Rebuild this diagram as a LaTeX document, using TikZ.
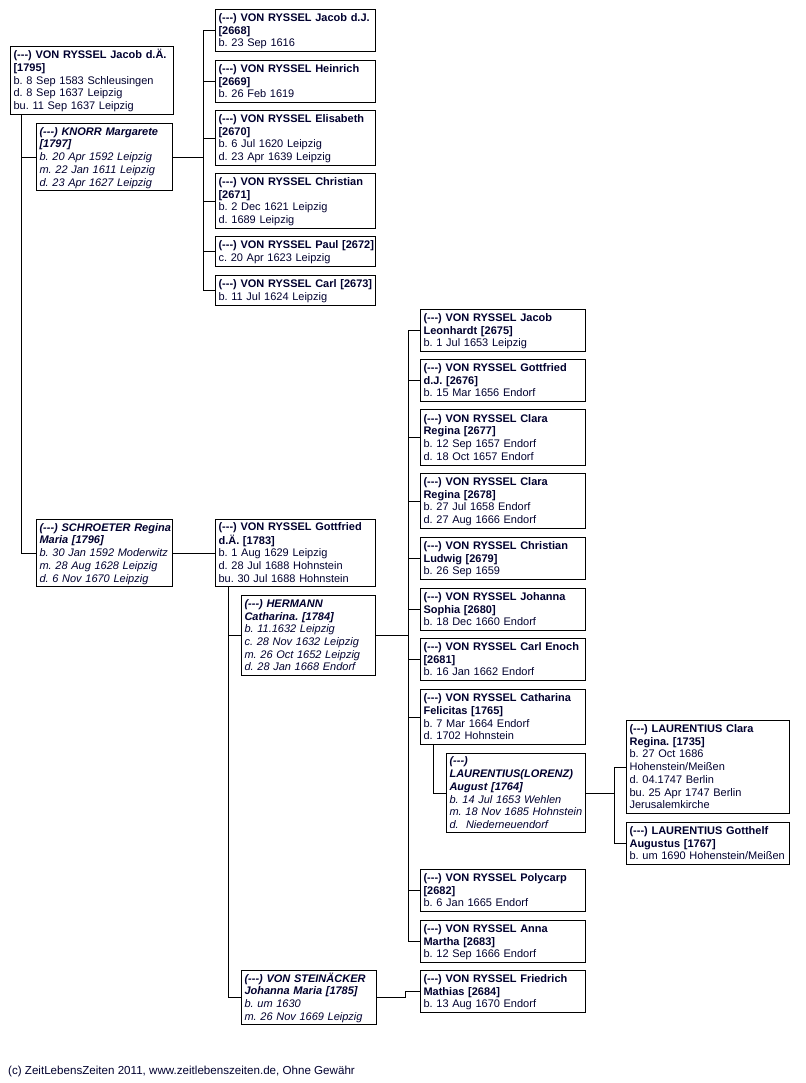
\documentclass[tikz,border=0pt]{standalone}
\usepackage{fontspec}
\setmainfont{Liberation Sans}
\usetikzlibrary{positioning}
\definecolor{tc}{HTML}{00002E}
\newcommand\unk{(-{}-{}-)}
\newcommand\fsz{\fontsize{11}{12.7}\selectfont\frenchspacing}
\newcommand\ftsz{\fontsize{11.6}{12.5}\selectfont\frenchspacing}
\newcommand\bx[1]{\begin{tabular}{@{}l@{}}\rule{0pt}{11pt}#1\end{tabular}}
\tikzset{
  box/.style 2 args={draw=black, line width=1.1pt, anchor=north west,
    inner xsep=3pt, inner ysep=0pt, align=left, font=\fsz, text=tc,
    text width=#1, minimum height=#2},
  link/.style={draw=black, line width=0.9pt},
}
\begin{document}
\begin{tikzpicture}[x=1pt,y=-1pt]
\useasboundingbox (0,0) rectangle (805,1083);
% generation 1
\node[box={157pt}{68pt}] (p1795) at (10,46) {\bx{\textbf{\unk{} VON RYSSEL Jacob d.Ä.}\\\textbf{[1795]}\\b. 8 Sep 1583 Schleusingen\\d. 8 Sep 1637 Leipzig\\bu. 11 Sep 1637 Leipzig}};
\node[box={130pt}{67pt}] (knorr) at (36,123) {\bx{\textbf{\itshape \unk{} KNORR Margarete}\\\textbf{\itshape [1797]}\\\itshape b. 20 Apr 1592 Leipzig\\\itshape m. 22 Jan 1611 Leipzig\\\itshape d. 23 Apr 1627 Leipzig}};
\node[box={130pt}{67pt}] (schroeter) at (36,519) {\bx{\textbf{\itshape \unk{} SCHROETER Regina}\\\textbf{\itshape Maria [1796]}\\\itshape b. 30 Jan 1592 Moderwitz\\\itshape m. 28 Aug 1628 Leipzig\\\itshape d. 6 Nov 1670 Leipzig}};
% children of Knorr
\node[box={154pt}{42pt}] (c2668) at (215,9) {\bx{\textbf{\unk{} VON RYSSEL Jacob d.J.}\\\textbf{[2668]}\\b. 23 Sep 1616}};
\node[box={154pt}{42pt}] (c2669) at (215,60) {\bx{\textbf{\unk{} VON RYSSEL Heinrich}\\\textbf{[2669]}\\b. 26 Feb 1619}};
\node[box={154pt}{55pt}] (c2670) at (215,110) {\bx{\textbf{\unk{} VON RYSSEL Elisabeth}\\\textbf{[2670]}\\b. 6 Jul 1620 Leipzig\\d. 23 Apr 1639 Leipzig}};
\node[box={154pt}{55pt}] (c2671) at (215,173) {\bx{\textbf{\unk{} VON RYSSEL Christian}\\\textbf{[2671]}\\b. 2 Dec 1621 Leipzig\\d. 1689 Leipzig}};
\node[box={154pt}{30pt}] (c2672) at (215,236) {\bx{\textbf{\unk{} VON RYSSEL Paul [2672]}\\c. 20 Apr 1623 Leipzig}};
\node[box={154pt}{30pt}] (c2673) at (215,275) {\bx{\textbf{\unk{} VON RYSSEL Carl [2673]}\\b. 11 Jul 1624 Leipzig}};
% Gottfried and spouses
\node[box={154pt}{67pt}] (p1783) at (215,519) {\bx{\textbf{\unk{} VON RYSSEL Gottfried}\\\textbf{d.Ä. [1783]}\\b. 1 Aug 1629 Leipzig\\d. 28 Jul 1688 Hohnstein\\bu. 30 Jul 1688 Hohnstein}};
\node[box={128pt}{80pt}] (hermann) at (241,595) {\bx{\textbf{\itshape \unk{} HERMANN}\\\textbf{\itshape Catharina. [1784]}\\\itshape b. 11.1632 Leipzig\\\itshape c. 28 Nov 1632 Leipzig\\\itshape m. 26 Oct 1652 Leipzig\\\itshape d. 28 Jan 1668 Endorf}};
\node[box={129pt}{54pt}] (steinaecker) at (241,970) {\bx{\textbf{\itshape \unk{} VON STEINÄCKER}\\\textbf{\itshape Johanna Maria [1785]}\\\itshape b. um 1630\\\itshape m. 26 Nov 1669 Leipzig}};
% children of Hermann
\node[box={159pt}{42pt}] (c2675) at (420,309) {\bx{\textbf{\unk{} VON RYSSEL Jacob}\\\textbf{Leonhardt [2675]}\\b. 1 Jul 1653 Leipzig}};
\node[box={159pt}{42pt}] (c2676) at (420,359) {\bx{\textbf{\unk{} VON RYSSEL Gottfried}\\\textbf{d.J. [2676]}\\b. 15 Mar 1656 Endorf}};
\node[box={159pt}{56pt}] (c2677) at (420,409) {\bx{\textbf{\unk{} VON RYSSEL Clara}\\\textbf{Regina [2677]}\\b. 12 Sep 1657 Endorf\\d. 18 Oct 1657 Endorf}};
\node[box={159pt}{55pt}] (c2678) at (420,473) {\bx{\textbf{\unk{} VON RYSSEL Clara}\\\textbf{Regina [2678]}\\b. 27 Jul 1658 Endorf\\d. 27 Aug 1666 Endorf}};
\node[box={159pt}{42pt}] (c2679) at (420,537) {\bx{\textbf{\unk{} VON RYSSEL Christian}\\\textbf{Ludwig [2679]}\\b. 26 Sep 1659}};
\node[box={159pt}{42pt}] (c2680) at (420,588) {\bx{\textbf{\unk{} VON RYSSEL Johanna}\\\textbf{Sophia [2680]}\\b. 18 Dec 1660 Endorf}};
\node[box={159pt}{42pt}] (c2681) at (420,638) {\bx{\textbf{\unk{} VON RYSSEL Carl Enoch}\\\textbf{[2681]}\\b. 16 Jan 1662 Endorf}};
\node[box={159pt}{55pt}] (c1765) at (420,689) {\bx{\textbf{\unk{} VON RYSSEL Catharina}\\\textbf{Felicitas [1765]}\\b. 7 Mar 1664 Endorf\\d. 1702 Hohnstein}};
\node[box={133pt}{79pt}] (laur) at (446,753) {\bx{\textbf{\itshape \unk}\\\textbf{\itshape LAURENTIUS(LORENZ)}\\\textbf{\itshape August [1764]}\\\itshape b. 14 Jul 1653 Wehlen\\\itshape m. 18 Nov 1685 Hohnstein\\\itshape d.\ \ Niederneuendorf}};
\node[box={159pt}{42pt}] (c2682) at (420,869) {\bx{\textbf{\unk{} VON RYSSEL Polycarp}\\\textbf{[2682]}\\b. 6 Jan 1665 Endorf}};
\node[box={159pt}{42pt}] (c2683) at (420,920) {\bx{\textbf{\unk{} VON RYSSEL Anna}\\\textbf{Martha [2683]}\\b. 12 Sep 1666 Endorf}};
\node[box={159pt}{42pt}] (c2684) at (420,970) {\bx{\textbf{\unk{} VON RYSSEL Friedrich}\\\textbf{Mathias [2684]}\\b. 13 Aug 1670 Endorf}};
% children of Laurentius
\node[box={157pt}{93pt}] (c1735) at (626,720) {\bx{\textbf{\unk{} LAURENTIUS Clara}\\\textbf{Regina. [1735]}\\b. 27 Oct 1686\\Hohenstein/Meißen\\d. 04.1747 Berlin\\bu. 25 Apr 1747 Berlin\\Jerusalemkirche}};
\node[box={157pt}{42pt}] (c1767) at (626,822) {\bx{\textbf{\unk{} LAURENTIUS Gotthelf}\\\textbf{Augustus [1767]}\\b. um 1690 Hohenstein/Meißen}};
% footer
\node[anchor=west, inner sep=0pt, font=\ftsz, text=tc] (footer) at (8,1071) {(c) ZeitLebensZeiten 2011, www.zeitlebenszeiten.de, Ohne Gewähr};
% connectors
\draw[link] ([xshift=11pt]p1795.south west) |- (knorr.west);
\draw[link] ([xshift=11pt]p1795.south west) |- (schroeter.west);
\coordinate (j1) at ([xshift=30pt]knorr.east);
\draw[link] (knorr.east) -- (j1);
\foreach \c in {c2668,c2669,c2670,c2671,c2672,c2673}
  \draw[link] (j1) |- (\c.west);
\draw[link] (schroeter.east) -- (p1783.west);
\draw[link] ([xshift=13pt]p1783.south west) |- (hermann.west);
\draw[link] ([xshift=13pt]p1783.south west) |- (steinaecker.west);
\coordinate (j2) at ([xshift=32pt]hermann.east);
\draw[link] (hermann.east) -- (j2);
\foreach \c in {c2675,c2676,c2677,c2678,c2679,c2680,c2681,c1765,c2682,c2683}
  \draw[link] (j2) |- (\c.west);
\coordinate (j3) at ([xshift=-15pt]c2684.west);
\draw[link] (steinaecker.east) -| (j3) -- (c2684.west);
\draw[link] ([xshift=13pt]c1765.south west) |- (laur.west);
\coordinate (j4) at ([xshift=28pt]laur.east);
\draw[link] (laur.east) -- (j4);
\draw[link] (j4) |- (c1735.west);
\draw[link] (j4) |- (c1767.west);
\end{tikzpicture}
\end{document}
